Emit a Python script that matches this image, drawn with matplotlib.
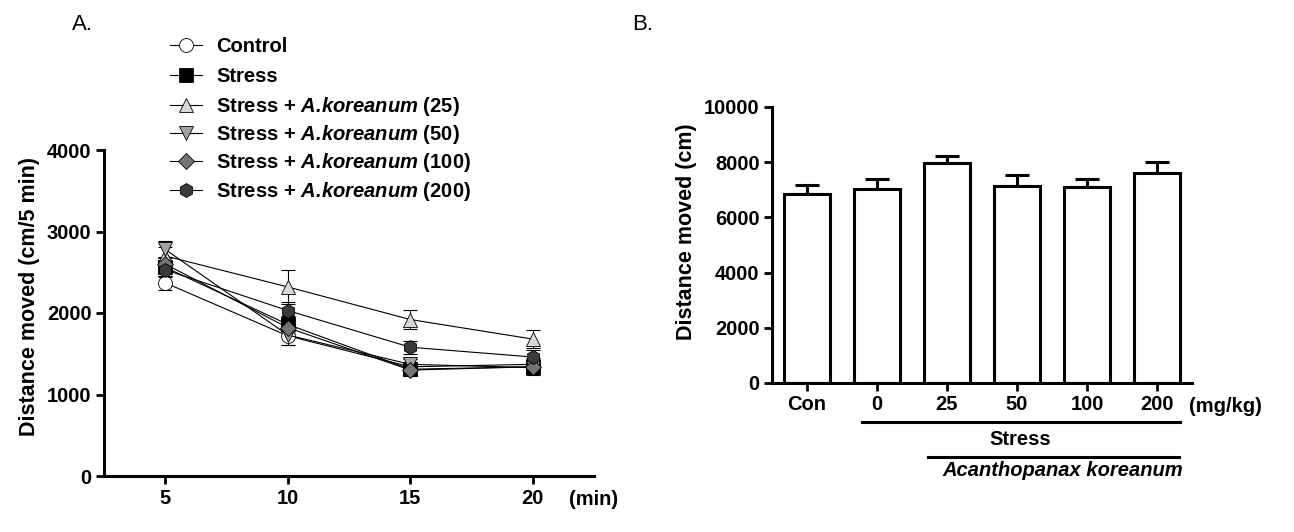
import numpy as np
import matplotlib.pyplot as plt
import matplotlib.transforms as mtransforms

plt.rcParams['font.family'] = ['Liberation Sans', 'DejaVu Sans']
plt.rcParams['font.weight'] = 'bold'
plt.rcParams['mathtext.fontset'] = 'custom'
plt.rcParams['mathtext.bfit'] = 'Liberation Sans:italic:bold'
plt.rcParams['mathtext.it'] = 'Liberation Sans:italic:bold'

# panel A data (distance per 5 min block)
times = [5, 10, 15, 20]
control = [2370, 1720, 1340, 1370]
control_err = [90, 110, 60, 80]
stress = [2560, 1860, 1310, 1340]
stress_err = [110, 100, 80, 90]
ak25 = [2700, 2320, 1920, 1680]
ak25_err = [110, 210, 120, 110]
ak50 = [2780, 1730, 1370, 1330]
ak50_err = [100, 120, 70, 90]
ak100 = [2600, 1820, 1300, 1340]
ak100_err = [90, 100, 60, 70]
ak200 = [2530, 2030, 1580, 1460]
ak200_err = [90, 110, 80, 80]

# panel B data (total distance)
bar_labels = ['Con', '0', '25', '50', '100', '200']
bar_vals = [6850, 7030, 7970, 7150, 7100, 7610]
bar_err = [330, 360, 270, 400, 290, 390]

fs_tick = 14.5
fs_lab = 15.5

fig = plt.figure(figsize=(12.94, 5.32), dpi=100)

# ---- panel A ----
axA = fig.add_axes([104/1294, 1-476/532, 490/1294, 326/532])
ak = r'$\mathbfit{A.\!koreanum}$'
series = [
    (control, control_err, 'o', 'white', 'Control'),
    (stress, stress_err, 's', 'black', 'Stress'),
    (ak25, ak25_err, '^', '#d9d9d9', 'Stress + ' + ak + ' (25)'),
    (ak50, ak50_err, 'v', '#a3a3a3', 'Stress + ' + ak + ' (50)'),
    (ak100, ak100_err, 'D', '#747474', 'Stress + ' + ak + ' (100)'),
    (ak200, ak200_err, 'h', '#3a3a3a', 'Stress + ' + ak + ' (200)'),
]
handles = []
for vals, err, mk, col, lab in series:
    axA.errorbar(times, vals, yerr=err, fmt='none', ecolor='black',
                 elinewidth=0.8, capsize=5, capthick=0.8, zorder=2)
    h, = axA.plot(times, vals, '-', color='black', lw=0.8, marker=mk,
                  markersize=10 if mk != 'D' else 8.5, markerfacecolor=col,
                  markeredgecolor='black', markeredgewidth=0.6, label=lab, zorder=3)
    handles.append(h)

axA.set_xlim(2.5, 22.5)
axA.set_ylim(0, 4000)
axA.set_xticks(times)
axA.set_yticks([0, 1000, 2000, 3000, 4000])
axA.set_ylabel('Distance moved (cm/5 min)', fontsize=fs_lab, fontweight='bold')
axA.yaxis.set_label_coords(-0.131, 0.55)
axA.annotate('(min)', xy=(21.5, 0), xycoords=('data', 'axes fraction'),
             xytext=(0, -10), textcoords='offset points', ha='left', va='top',
             fontsize=fs_tick, fontweight='bold', annotation_clip=False)
leg_kw = dict(loc='upper left', frameon=False, fontsize=fs_tick, handlelength=1.6,
              handletextpad=0.7, borderpad=0, borderaxespad=0)
leg1 = fig.legend(handles=handles[:2], bbox_to_anchor=(170/1294, 1-37/532),
                  labelspacing=0.53, **leg_kw)
leg2 = fig.legend(handles=handles[2:], bbox_to_anchor=(170/1294, 1-95/532),
                  labelspacing=0.26, **leg_kw)
fig.text(72/1294, 1-25/532, 'A.', fontsize=16, fontweight='normal', va='center')

# ---- panel B ----
axB = fig.add_axes([772/1294, 1-383/532, 420/1294, 276/532])
x = np.arange(len(bar_labels))
axB.bar(x, bar_vals, width=0.67, color='white', edgecolor='black', linewidth=2.2, zorder=2)
axB.errorbar(x, bar_vals, yerr=[np.zeros(len(bar_err)), bar_err], fmt='none',
             ecolor='black', elinewidth=2.2, capsize=8.5, capthick=2.2, zorder=1)
axB.set_xlim(-0.5, 5.5)
axB.set_ylim(0, 10000)
axB.set_xticks(x)
axB.set_xticklabels(bar_labels)
axB.set_yticks([0, 2000, 4000, 6000, 8000, 10000])
axB.set_ylabel('Distance moved (cm)', fontsize=fs_lab, fontweight='bold')
axB.yaxis.set_label_coords(-0.179, 0.55)
axB.annotate('(mg/kg)', xy=(5.46, 0), xycoords=('data', 'axes fraction'),
             xytext=(0, -10), textcoords='offset points', ha='left', va='top',
             fontsize=fs_tick, fontweight='bold', annotation_clip=False)
trB = mtransforms.blended_transform_factory(axB.transData, axB.transAxes)
axB.plot([0.78, 5.33], [-0.141, -0.141], color='black', lw=2.2,
         transform=trB, clip_on=False)
axB.text(3.05, -0.203, 'Stress', transform=trB, ha='center', va='center',
         fontsize=fs_tick, fontweight='bold')
axB.plot([1.73, 5.31], [-0.268, -0.268], color='black', lw=2.2,
         transform=trB, clip_on=False)
axB.text(3.65, -0.316, 'Acanthopanax koreanum', transform=trB, ha='center',
         va='center', fontsize=fs_tick, fontweight='bold', style='italic')
fig.text(632/1294, 1-25/532, 'B.', fontsize=16, fontweight='normal', va='center')

for ax in (axA, axB):
    ax.spines['top'].set_visible(False)
    ax.spines['right'].set_visible(False)
    ax.spines['left'].set_linewidth(2.2)
    ax.spines['bottom'].set_linewidth(2.2)
    ax.tick_params(direction='out', length=6, width=2, pad=3, labelsize=fs_tick)
    for t in ax.get_xticklabels() + ax.get_yticklabels():
        t.set_fontweight('bold')

fig.savefig('out.png', dpi=100)
